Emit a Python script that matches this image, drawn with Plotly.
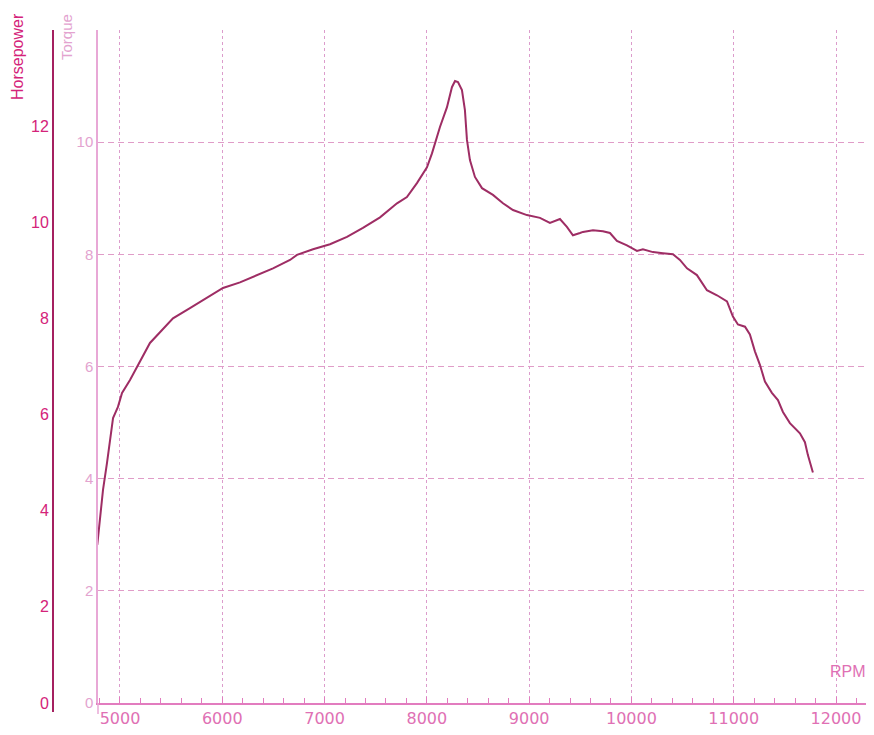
import plotly.graph_objects as go

# Curve read from the dyno sheet (plotted against the Torque scale)
rpm = [4778, 4805, 4834, 4873, 4902, 4932, 4980, 5020, 5098, 5166, 5225, 5293, 5391,
       5518, 5684, 5850, 6007, 6173, 6339, 6496, 6662, 6730, 6887, 7053, 7219, 7375,
       7542, 7708, 7805, 7903, 8001, 8050, 8128, 8196, 8245, 8275, 8304, 8343, 8372,
       8392, 8421, 8470, 8539, 8646, 8744, 8842, 8978, 9106, 9203, 9301, 9369, 9428,
       9497, 9526, 9624, 9721, 9790, 9858, 9956, 10054, 10112, 10210, 10308, 10406,
       10474, 10543, 10640, 10738, 10836, 10934, 10992, 11041, 11110, 11158, 11207,
       11256, 11305, 11373, 11432, 11481, 11549, 11647, 11696, 11725, 11774]
torque = [2.82, 3.32, 3.80, 4.28, 4.69, 5.08, 5.28, 5.53, 5.76, 5.99, 6.20, 6.42, 6.61,
          6.86, 7.04, 7.22, 7.40, 7.50, 7.63, 7.75, 7.90, 7.99, 8.09, 8.18, 8.31, 8.47,
          8.66, 8.91, 9.02, 9.27, 9.55, 9.80, 10.27, 10.62, 10.98, 11.09, 11.07, 10.93, 10.57,
          10.04, 9.68, 9.38, 9.18, 9.06, 8.91, 8.79, 8.70, 8.65, 8.56, 8.63, 8.49, 8.34,
          8.38, 8.40, 8.43, 8.41, 8.38, 8.24, 8.16, 8.06, 8.09, 8.04, 8.02, 8.00,
          7.90, 7.75, 7.63, 7.36, 7.27, 7.16, 6.89, 6.75, 6.71, 6.57, 6.27,
          6.03, 5.73, 5.53, 5.40, 5.19, 4.99, 4.81, 4.65, 4.42, 4.11]

rpm_ticks = [5000, 6000, 7000, 8000, 9000, 10000, 11000, 12000]
torque_ticks = [0, 2, 4, 6, 8, 10]
hp_ticks = [0, 2, 4, 6, 8, 10, 12]

# page body adds an 8px margin; figure sized to fit the 874x735 window
OFF = 8
W, H = 874 - 2 * OFF, 735 - 2 * OFF
ML, MR, MT, MB = 32, 0, 22, 24
pw = W - ML - MR
ph = H - MT - MB


def px_x(x):
    return (x - OFF - ML) / pw


def px_y(y):
    return (703 - y) / ph


fig = go.Figure()
fig.add_trace(go.Scatter(x=rpm, y=torque, mode="lines",
                         line=dict(color="#9e2d64", width=2), yaxis="y",
                         showlegend=False, hoverinfo="x+y"))
# invisible trace to activate horsepower axis
fig.add_trace(go.Scatter(x=[None], y=[None], yaxis="y2", showlegend=False))

fig.update_layout(
    width=W, height=H,
    margin=dict(l=ML, r=MR, t=MT, b=MB),
    paper_bgcolor="white", plot_bgcolor="white",
    font=dict(family="Liberation Sans, Arial, sans-serif"),
    xaxis=dict(
        domain=[px_x(98), 1], range=[4785, 12293],
        tickvals=rpm_ticks, ticktext=[str(v) for v in rpm_ticks],
        tickfont=dict(size=16, color="#e070b4", family="DejaVu Sans, sans-serif"),
        showgrid=True, gridcolor="#dc9ccc", gridwidth=1, griddash="3px,3px",
        showline=True, linecolor="#e27cbf", linewidth=1.5,
        ticks="inside", ticklen=6, tickcolor="#e27cbf",
        minor=dict(dtick=200, tick0=5000, ticks="inside", ticklen=5,
                   tickcolor="#e27cbf", showgrid=False),
        zeroline=False, anchor="y", automargin=False, fixedrange=True,
    ),
    yaxis=dict(
        range=[0, 12], tickvals=torque_ticks,
        tickfont=dict(size=15, color="#e3a3cf"),
        showgrid=True, gridcolor="#e09cc8", gridwidth=1, griddash="6px,4px",
        showline=True, linecolor="#e8a8d6", linewidth=1.5,
        ticks="", zeroline=False, anchor="x", side="left",
        automargin=False, fixedrange=True,
    ),
    yaxis2=dict(
        range=[0, 14], tickvals=hp_ticks,
        tickfont=dict(size=16, color="#d4237a"),
        showgrid=False, showline=True, linecolor="#a52060", linewidth=2,
        ticks="", zeroline=False, overlaying="y", anchor="free",
        position=px_x(53), side="left", automargin=False, fixedrange=True,
    ),
    shapes=[
        # axis lines continue slightly below the baseline, as on the sheet
        dict(type="line", xref="paper", yref="paper", x0=px_x(53), x1=px_x(53),
             y0=0, y1=px_y(712), line=dict(color="#a52060", width=2)),
        dict(type="line", xref="paper", yref="paper", x0=px_x(98), x1=px_x(98),
             y0=0, y1=px_y(714), line=dict(color="#e8a8d6", width=1.5)),
    ],
    annotations=[
        dict(text="Horsepower", x=px_x(18), y=px_y(57),
             xref="paper", yref="paper", textangle=-90, showarrow=False,
             font=dict(size=16, color="#d4237a"), xanchor="center", yanchor="middle"),
        dict(text="Torque", x=px_x(67), y=px_y(37),
             xref="paper", yref="paper", textangle=-90, showarrow=False,
             font=dict(size=15, color="#e3a3cf"), xanchor="center", yanchor="middle"),
        dict(text="RPM", x=px_x(868), y=px_y(671),
             xref="paper", yref="paper", showarrow=False,
             font=dict(size=16, color="#e070b4"), xanchor="right", yanchor="middle"),
    ],
)

fig.write_html("out.html")
